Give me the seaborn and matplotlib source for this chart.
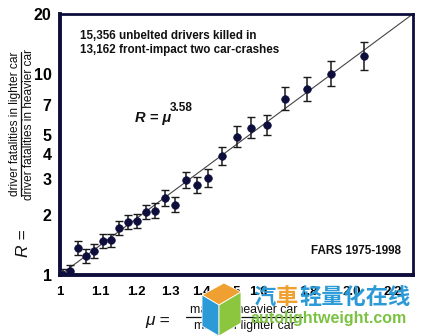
import numpy as np
import pandas as pd
import matplotlib
matplotlib.use("Agg")
import matplotlib.pyplot as plt
from matplotlib.lines import Line2D
from matplotlib.patches import Polygon
import seaborn as sns

# ---- data ----
mu = [1.007, 1.024, 1.044, 1.064, 1.084, 1.107, 1.128, 1.150, 1.175, 1.200,
      1.226, 1.252, 1.282, 1.313, 1.348, 1.383, 1.420, 1.468, 1.521, 1.572,
      1.633, 1.704, 1.796, 1.900, 2.055]
R = [1.00, 1.05, 1.36, 1.24, 1.32, 1.48, 1.49, 1.72, 1.84, 1.86,
     2.06, 2.09, 2.42, 2.24, 2.98, 2.81, 3.05, 3.93, 4.89, 5.42,
     5.61, 7.56, 8.48, 10.1, 12.4]
log_err = [0.07, 0.07, 0.08, 0.08, 0.08, 0.077, 0.077, 0.08, 0.08, 0.08,
           0.084, 0.086, 0.09, 0.084, 0.092, 0.09, 0.10, 0.105, 0.12, 0.12,
           0.115, 0.13, 0.14, 0.147, 0.16]
exponent = 3.58
x_ticks = [1.0, 1.1, 1.2, 1.3, 1.4, 1.5, 1.6, 1.7, 1.8, 1.9, 2.0, 2.1, 2.2]
x_labels = ["1", "1.1", "1.2", "1.3", "1.4", "1.5", "1.6", "", "1.8", "", "2.0", "", "2.2"]
y_ticks = [1, 2, 3, 4, 5, 6, 7, 8, 9, 10, 20]
y_labels = ["1", "2", "3", "4", "5", "", "7", "", "", "10", "20"]

df = pd.DataFrame({"mu": mu, "R": R, "e": log_err})
df["lo"] = df["R"] - df["R"] * np.exp(-df["e"])
df["hi"] = df["R"] * np.exp(df["e"]) - df["R"]

sns.set_theme(style="white")
plt.rcParams["font.family"] = ["Liberation Sans", "DejaVu Sans"]

navy = "#0e0e3c"
W, H = 424, 336
fig = plt.figure(figsize=(4.24, 3.36), dpi=100)
ax = fig.add_axes([60/W, 61/H, 353/W, 261/H])
ax.set_xscale("log")
ax.set_yscale("log")
ax.set_xlim(1.0, 2.31)
ax.set_ylim(1.0, 20)

# fit line R = mu^3.58
grid = np.linspace(1.0, 2.31, 100)
sns.lineplot(x=grid, y=grid**exponent, ax=ax, color="#444444", lw=0.8, zorder=1)

ax.errorbar(df["mu"], df["R"], yerr=[df["lo"], df["hi"]], fmt="none",
            ecolor="#1a1a1a", elinewidth=1.1, capsize=2.6, capthick=1.0, zorder=2)
sns.scatterplot(data=df, x="mu", y="R", ax=ax, color=navy, s=30,
                edgecolor=navy, linewidth=0.5, zorder=3, legend=False)

ax.set_xticks(x_ticks)
ax.set_xticklabels(x_labels)
ax.set_yticks(y_ticks)
ax.set_yticklabels(y_labels)
ax.xaxis.set_minor_locator(matplotlib.ticker.NullLocator())
ax.yaxis.set_minor_locator(matplotlib.ticker.NullLocator())
ax.tick_params(axis="both", direction="in", length=4, width=1.6, color=navy)
ax.tick_params(axis="x", pad=8, labelsize=9.5, labelcolor="black")
ax.tick_params(axis="y", pad=6, labelsize=11.5, labelcolor="black")
for lab in ax.get_xticklabels() + ax.get_yticklabels():
    lab.set_fontweight("bold")
ax.set_xlabel("")
ax.set_ylabel("")
for side in ["left", "bottom"]:
    ax.spines[side].set_linewidth(2.8)
    ax.spines[side].set_color(navy)
for side in ["top", "right"]:
    ax.spines[side].set_linewidth(2.0)
    ax.spines[side].set_color(navy)
    ax.spines[side].set_visible(True)

# annotations inside plot
fig.text(80/W, 1 - 43/H, "15,356 unbelted drivers killed in\n13,162 front-impact two car-crashes",
         fontsize=8.4, fontweight="bold", color="#111111", va="center", ha="left", linespacing=1.25)
fig.text(135/W, 1 - 118/H, "R = μ", fontsize=10.5, fontweight="bold", fontstyle="italic",
         color="#111111", va="center", ha="left")
fig.text(170/W, 1 - 108/H, "3.58", fontsize=8.5, fontweight="bold",
         color="#111111", va="center", ha="left")
fig.text(401/W, 1 - 251/H, "FARS 1975-1998", fontsize=8.4, fontweight="bold",
         color="#111111", va="center", ha="right")

# y label: R = fraction
fig.text(23/W, 1 - 243/H, "R =", fontsize=12.5, fontstyle="italic", rotation=90,
         va="center", ha="center", color="#111111")
fig.text(15/W, 1 - 124/H, "driver fatalities in lighter car", fontsize=8.6, rotation=90,
         va="center", ha="center", color="#111111")
fig.text(29/W, 1 - 124/H, "driver fatalities in heavier car", fontsize=8.6, rotation=90,
         va="center", ha="center", color="#111111")
fig.add_artist(Line2D([21/W, 21/W], [1 - 52/H, 1 - 196/H], color="#111111", lw=0.9))

# x label: mu = fraction
fig.text(158/W, 1 - 320/H, "μ =", fontsize=12.5, fontstyle="italic",
         va="center", ha="center", color="#111111")
fig.text(244/W, 1 - 310/H, "mass of heavier car", fontsize=8.8,
         va="center", ha="center", color="#111111")
fig.text(244/W, 1 - 326/H, "mass of lighter car", fontsize=8.8,
         va="center", ha="center", color="#111111")
fig.add_artist(Line2D([186/W, 302/W], [1 - 317/H, 1 - 317/H], color="#111111", lw=0.9))

# watermark (logo cube + text)
def px(pts):
    return [(x / W, 1 - y / H) for x, y in pts]

orange, blue, green = "#f0a030", "#2b9ad6", "#8cc63f"
fig.add_artist(Polygon(px([(202, 295), (224, 283), (241, 292), (219, 305)]),
                       closed=True, fc=orange, ec="white", lw=0.6, zorder=10))
fig.add_artist(Polygon(px([(202, 295), (219, 305), (219, 336), (202, 326)]),
                       closed=True, fc=blue, ec="white", lw=0.6, zorder=10))
fig.add_artist(Polygon(px([(219, 305), (241, 292), (241, 323), (219, 336)]),
                       closed=True, fc=green, ec="white", lw=0.6, zorder=10))

fig.text(253/W, 1 - 297/H, "汽", fontsize=16, fontweight="bold", color=blue,
         va="center", ha="left", family=["Noto Sans CJK SC", "DejaVu Sans"], zorder=11)
fig.text(276/W, 1 - 297/H, "車", fontsize=16, fontweight="bold", color=orange,
         va="center", ha="left", family=["Noto Sans CJK TC", "DejaVu Sans"], zorder=11)
fig.text(299/W, 1 - 297/H, "轻量化在线", fontsize=16, fontweight="bold", color=blue,
         va="center", ha="left", family=["Noto Sans CJK SC", "DejaVu Sans"], zorder=11)
fig.text(250/W, 1 - 318/H, "autolightweight.com", fontsize=11.5, fontweight="bold",
         color="#7cc242", va="center", ha="left", zorder=11)

fig.savefig("out.png", dpi=100)
